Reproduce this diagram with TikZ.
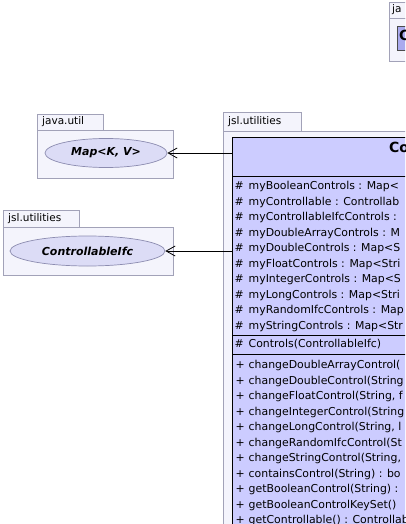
\documentclass[tikz,border=0pt]{standalone}
\usepackage{fontspec}
\setmainfont{DejaVu Sans}
\usetikzlibrary{arrows.meta,shapes.geometric}
\definecolor{pkgfill}{HTML}{F4F4FC}
\definecolor{pkgline}{HTML}{A2A2B8}
\definecolor{classfill}{HTML}{CCCCFF}
\definecolor{ifcfill}{HTML}{DCDCF6}
\definecolor{ifcline}{HTML}{8C8CB0}
\definecolor{darkclass}{HTML}{AAAAEE}
\tikzset{
	package/.style={draw=pkgline,fill=pkgfill,line width=0.8pt},%
	pkglabel/.style={font=\fontsize{10.5}{12}\selectfont,anchor=mid west,inner sep=0pt},%
	umlclass/.style={draw=black,fill=classfill,line width=0.8pt},%
	separator/.style={draw=black,line width=0.8pt},%
	classname/.style={font=\fontsize{14}{16}\selectfont\bfseries,anchor=mid west,inner sep=0pt},%
	iface/.style={ellipse,draw=ifcline,fill=ifcfill,line width=0.7pt,inner sep=0pt,font=\fontsize{11}{13}\selectfont\bfseries\itshape},%
	member/.style={font=\fontsize{10.9}{13}\selectfont,anchor=mid west,inner sep=0pt},%
	dependency/.style={-{Straight Barb[length=9pt,width=10pt]},line width=0.8pt},%
}
\def\rowstep{15.5}
\def\attrtop{187}
\def\methtop{366}
\begin{document}
\begin{tikzpicture}[x=1pt,y=-1pt]
		\useasboundingbox (0,0) rectangle (405,524);
		\clip (0,0) rectangle (405,524);
		\fill[white] (0,0) rectangle (405,524);
		% package in the top right corner
		\draw[package] (389,18) rectangle (420,61);
		\draw[package] (389,2) rectangle (420,18);
		\node[pkglabel] (topTab) at (392,10) {ja};
		\node[draw=black!70,fill=darkclass,line width=0.8pt,anchor=north west,minimum width=30pt,minimum height=24pt] (topClass) at (397,26) {};
		\node[classname] (topName) at (399,38) {C};
		% java.util
		\draw[package] (37,130) rectangle (173,178);
		\draw[package] (37,114) rectangle (103,130);
		\node[pkglabel] (utilTab) at (42,122) {java.util};
		\node[iface,minimum width=122pt,minimum height=29pt] (mapIfc) at (106,153) {Map<K, V>};
		% jsl.utilities on the left
		\draw[package] (3,227) rectangle (173,275);
		\draw[package] (3,210) rectangle (79,227);
		\node[pkglabel] (jslTabLeft) at (8,219) {jsl.utilities};
		\node[iface,minimum width=155pt,minimum height=30pt] (ctrlIfc) at (87.5,251) {ControllableIfc};
		% jsl.utilities holding the class
		\draw[package] (223,131) rectangle (430,540);
		\draw[package] (223,112) rectangle (301,131);
		\node[pkglabel] (jslTab) at (228,122) {jsl.utilities};
		\node[umlclass,rectangle,anchor=north west,minimum width=220pt,minimum height=420pt] (controls) at (232,137) {};
		\node[classname] (controlsName) at (389,150) {Controls};
		\draw[separator] (controls.north west) ++(0,39) -- +(200,0);
		\draw[separator] (controls.north west) ++(0,198.5) -- +(200,0);
		\draw[separator] (controls.north west) ++(0,217) -- +(200,0);
		\foreach \txt [count=\i from 0] in {{myBooleanControls : Map<},{myControllable : Controllab},{myControllableIfcControls : },{myDoubleArrayControls : M},{myDoubleControls : Map<S},{myFloatControls : Map<Stri},{myIntegerControls : Map<S},{myLongControls : Map<Stri},{myRandomIfcControls : Map},{myStringControls : Map<Str}}{
			\node[member] (attrVis\i) at (234.5,{\attrtop+\rowstep*\i}) {\#};
			\node[member] (attr\i) at (248.5,{\attrtop+\rowstep*\i}) {\txt};
		}
		\node[member] (ctorVis) at (234.5,345) {\#};
		\node[member] (ctor) at (248.5,345) {Controls(ControllableIfc)};
		\foreach \txt [count=\i from 0] in {{changeDoubleArrayControl(},{changeDoubleControl(String},{changeFloatControl(String, f},{changeIntegerControl(String},{changeLongControl(String, l},{changeRandomIfcControl(St},{changeStringControl(String,},{containsControl(String) : bo},{getBooleanControl(String) :},{getBooleanControlKeySet()},{getControllable() : Controllab}}{
			\node[member] (methVis\i) at (235.5,{\methtop+\rowstep*\i}) {+};
			\node[member] (meth\i) at (248.5,{\methtop+\rowstep*\i}) {\txt};
		}
		% dependencies
		\draw[dependency] (controls.west |- mapIfc) -- (mapIfc);
		\draw[dependency] (controls.west |- ctrlIfc) -- (ctrlIfc);
	\end{tikzpicture}
\end{document}
